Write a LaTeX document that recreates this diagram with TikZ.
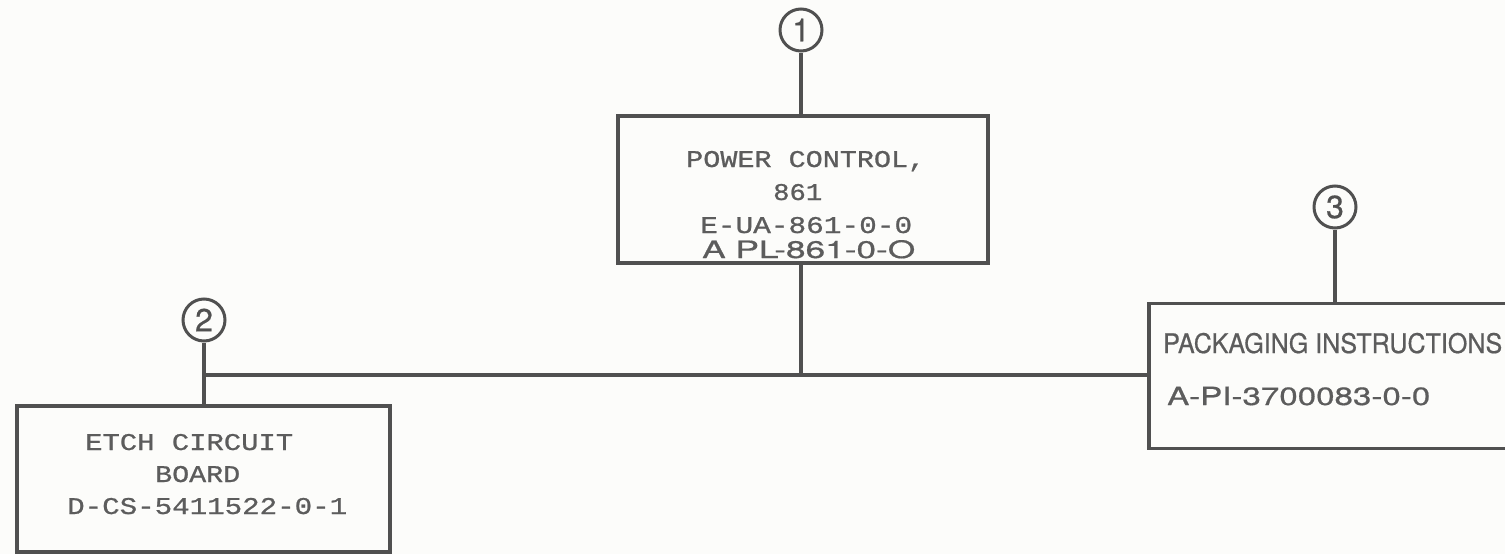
\documentclass[tikz,border=0pt]{standalone}
\usepackage{fontspec}
\usepackage{graphicx}
\newfontfamily\monof[FakeBold=0.8]{Liberation Mono}
\newfontfamily\letf[FakeBold=0.6]{TeX Gyre Heros}
\newcommand\fitwd[2]{\resizebox{#1}{\height}{#2}}
\definecolor{ink}{RGB}{80,80,80}
\definecolor{txt}{RGB}{92,92,92}
\definecolor{paper}{RGB}{252,252,250}
\begin{document}
\begin{tikzpicture}[x=1pt,y=-1pt,
  blk/.style={draw=ink,line width=3.2pt,rectangle,inner sep=0pt},
  num/.style={circle,draw=ink,line width=3pt,minimum size=42pt,inner sep=0pt,text=ink,font=\letf\fontsize{32}{32}\selectfont},
  wire/.style={draw=ink,line width=3.2pt},
  mono/.style={text=txt,inner sep=0pt,anchor=base west,font=\monof\fontsize{24}{24}\selectfont},
  lett/.style={text=txt,inner sep=0pt,anchor=base west,font=\letf\fontsize{27}{27}\selectfont}]
\useasboundingbox (0,0) rectangle (1505,554);
\fill[paper] (0,0) rectangle (1505,554);
\clip (0,0) rectangle (1505,554);
% boxes
\node[blk,minimum width=370pt,minimum height=147pt] (power) at (803,189.5) {};
\node[blk,minimum width=373pt,minimum height=146pt] (etch) at (203.5,479) {};
\node[blk,minimum width=420pt,minimum height=145pt] (pack) at (1359,376) {};
% circles
\node[num] (c1) at (801,30) {1};
\node[num] (c2) at (204,320) {2};
\node[num] (c3) at (1335,207) {3};
% junction
\coordinate (j2) at (204,375);
% wires
\draw[wire] (c1) -- (c1 |- power.north);
\draw[wire] (c2) -- (c2 |- etch.north);
\draw[wire] (c3) -- (c3 |- pack.north);
\draw[wire] (j2) -- (pack.west |- j2);
\draw[wire] (c1 |- power.south) -- (c1 |- j2);
% texts
\node[mono] (p1) at (686,167) {\fitwd{239pt}{POWER CONTROL,}};
\node[mono] (p2) at (773,200) {\fitwd{49pt}{861}};
\node[mono] (p3) at (700,233) {\fitwd{212pt}{E-UA-861-0-0}};
\node[lett,font=\letf\fontsize{24}{24}\selectfont] (p4) at (702,258) {\fitwd{213pt}{A PL-861-0-O}};
\node[mono] (e1) at (85,450) {\fitwd{208pt}{ETCH CIRCUIT}};
\node[mono] (e2) at (155,482) {\fitwd{85pt}{BOARD}};
\node[mono] (e3) at (67,514) {\fitwd{280pt}{D-CS-5411522-0-1}};
\node[lett] (k1) at (1163,353) {\fitwd{339pt}{PACKAGING INSTRUCTIONS}};
\node[lett,font=\letf\fontsize{25}{25}\selectfont] (k2) at (1167,405) {\fitwd{263pt}{A-PI-3700083-0-0}};
\end{tikzpicture}
\end{document}
